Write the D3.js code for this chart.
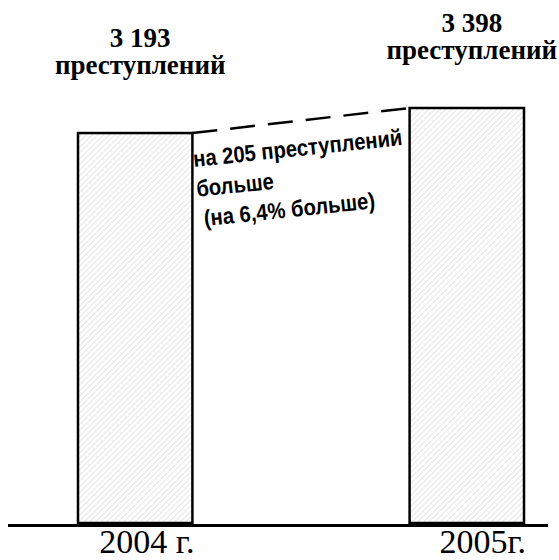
<!DOCTYPE html>
<html>
<head>
<meta charset="utf-8">
<script src="https://cdn.jsdelivr.net/npm/d3@7"></script>
<style>
  body { margin: 0; background: #fff; }
  svg { display: block; }
  .serif { font-family: "Liberation Serif", "Times New Roman", serif; }
</style>
</head>
<body>
<div id="chart"></div>
<script>
// data
const years = ["2004 г.", "2005г."];
const crimes = [3193, 3398];
const crimeLabel = "преступлений";

// layout
const W = 559, H = 560;
const baseY = 523;
const topBaselines = [47, 32];

const svg = d3.select("#chart").append("svg")
    .attr("width", W)
    .attr("height", H);

// hatch fill for the bars
const pat = svg.append("defs").append("pattern")
    .attr("id", "hatch")
    .attr("patternUnits", "userSpaceOnUse")
    .attr("width", 4)
    .attr("height", 4)
    .attr("patternTransform", "rotate(45)");
pat.append("rect").attr("width", 4).attr("height", 4).attr("fill", "#fff");
pat.append("line")
    .attr("x1", 0).attr("y1", 0).attr("x2", 0).attr("y2", 4)
    .attr("stroke", "#d4d4d4")
    .attr("stroke-width", 1.2);

var x = d3.scaleBand()
    .domain(d3.range(years.length))
    .range([78, 524])
    .paddingInner(0.655)
    .paddingOuter(0);

var y = d3.scaleLinear()
    .domain([0, d3.max(crimes)])
    .range([baseY, 108]);

const bw = x.bandwidth();

// bars
svg.selectAll("rect.bar")
    .data(crimes)
    .enter().append("rect")
    .attr("class", "bar")
    .attr("x", (d, i) => x(i))
    .attr("y", d => y(d))
    .attr("width", bw)
    .attr("height", d => baseY - y(d))
    .attr("fill", "url(#hatch)")
    .attr("stroke", "#000")
    .attr("stroke-width", 2.5);

// baseline
svg.append("line")
    .attr("x1", 8).attr("x2", 548)
    .attr("y1", baseY + 2.5).attr("y2", baseY + 2.5)
    .attr("stroke", "#000")
    .attr("stroke-width", 3);

// dashed connector between the bar tops
const conn = [[x(0) + bw, y(crimes[0])], [x(1), y(crimes[1])]];
svg.append("path")
    .attr("d", d3.line()(conn))
    .attr("fill", "none")
    .attr("stroke", "#000")
    .attr("stroke-width", 2.5)
    .attr("stroke-dasharray", "25,13");

// value labels on top
const fmt = v => d3.format(",")(v).replace(",", " ");
function topText(sel) {
    sel.attr("class", "serif")
        .attr("x", (d, i) => x(i) + bw / 2 + 5)
        .attr("text-anchor", "middle")
        .style("font-size", "27px")
        .style("font-weight", "bold");
}
svg.selectAll("text.val")
    .data(crimes)
    .enter().append("text")
    .call(topText)
    .attr("y", (d, i) => topBaselines[i])
    .text(d => fmt(d));
svg.selectAll("text.lbl")
    .data(crimes)
    .enter().append("text")
    .call(topText)
    .attr("y", (d, i) => topBaselines[i] + 27)
    .text(crimeLabel);

// year labels
svg.selectAll("text.year")
    .data(years)
    .enter().append("text")
    .attr("class", "serif")
    .attr("x", (d, i) => x(i) + bw + 2)
    .attr("y", 553)
    .attr("text-anchor", "end")
    .style("font-size", "34px")
    .text(d => d);

// difference note, tilted along the connector
const diff = crimes[1] - crimes[0];
const pct = d3.format(".1f")(diff / crimes[0] * 100).replace(".", ",");
const noteLines = ["на " + diff + " преступлений", "больше", "(на " + pct + "% больше)"];
const note = svg.append("g")
    .attr("transform", "translate(194,167) rotate(-6) scale(0.88,1)")
    .attr("font-family", "'Liberation Sans', Arial, sans-serif")
    .attr("font-weight", "bold")
    .attr("font-size", "23px");
note.selectAll("text")
    .data(noteLines)
    .enter().append("text")
    .attr("x", (d, i) => i == 2 ? 5 : 0)
    .attr("y", (d, i) => i * 30)
    .text(d => d);
</script>
</body>
</html>
